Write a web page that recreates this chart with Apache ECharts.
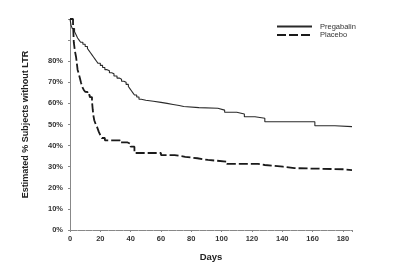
<!DOCTYPE html>
<html lang="en">
<head>
    <meta charset="UTF-8">
    <title>LTR</title>
    <script src="https://cdn.jsdelivr.net/npm/echarts@6/dist/echarts.min.js"></script>
    <style>
        html, body { margin: 0; padding: 0; background: #fff; }
        #chart { width: 400px; height: 273px; }
    </style>
</head>
<body>
<div id="chart"></div>
<script>
    // days / estimated % without LTR
    var pregabalinDays = [0, 0.7, 1.5, 3, 4, 5, 6, 7, 8.5, 10, 11.5, 12.5, 13.5, 14.5, 15.5, 16.5, 17.5, 18.5, 20, 21.5, 23, 24.5, 26, 27.5, 29, 31, 32.5, 34, 35.5, 37, 38.5, 39.5, 40.5, 41.5, 42.5, 44, 45.5, 47, 50, 55, 60, 64, 68, 72, 75, 85, 97.5, 102, 110, 115, 122, 128.5, 161.5, 174.7, 186];
    var pregabalinPct  = [100, 97, 95.5, 94, 92.5, 91, 90, 89, 88, 87, 86, 85, 84, 83, 82, 81, 80, 79, 78, 77, 76, 75.5, 74.5, 74, 73, 72, 71.5, 70.5, 70, 69, 68, 67, 66, 65, 64, 63, 62, 61.5, 61, 60.5, 60, 59.5, 59, 58.5, 58, 57.7, 56.8, 55.8, 55, 53.7, 53, 51.3, 49.4, 49, 49];

    var placeboDays = [0, 2, 2.5, 3.2, 4, 4.5, 5, 5.8, 6.5, 7.2, 8, 9, 10, 11.5, 13, 14.5, 15, 15.5, 16, 17, 18, 19, 20, 21, 23, 33, 38, 40, 42.5, 60, 69, 76, 84, 91, 103.5, 124, 128.5, 140.5, 148, 180, 186];
    var placeboPct  = [100, 98, 89, 85, 82, 79, 76, 74, 72, 70, 68, 66.5, 65.5, 64, 63, 61, 57, 54, 52, 50, 48.5, 46.5, 45, 43.6, 42.5, 41.5, 40.8, 39.5, 36.5, 35.5, 34.7, 34, 33.2, 32.4, 31.3, 30.8, 30, 29.3, 28.8, 28.4, 28.1];

    var xTicks = [0, 20, 40, 60, 80, 100, 120, 140, 160, 180];
    var yTickLabels = ['0%', '10%', '20%', '30%', '40%', '50%', '60%', '70%', '80%'];

    function pairs(xs, ys) {
        var out = [];
        for (var i = 0; i < xs.length; i++) {
            out.push([xs[i], ys[i]]);
        }
        return out;
    }

    var myChart = echarts.init(document.getElementById('chart'));
    myChart.setOption({
        animation: false,
        backgroundColor: '#fff',
        textStyle: { fontFamily: 'Liberation Sans, Arial, sans-serif' },
        grid: { left: 70, right: 48, top: 19, bottom: 43 },
        legend: {
            orient: 'vertical',
            left: 276,
            top: 22.5,
            padding: 0,
            itemWidth: 35,
            itemHeight: 8,
            itemGap: 0.5,
            itemStyle: { color: 'transparent', borderWidth: 0, opacity: 0 },
            textStyle: { fontSize: 7.5, color: '#333', padding: [0, 0, 0, 3] },
            data: ['Pregabalin', 'Placebo']
        },
        xAxis: {
            type: 'value',
            min: 0,
            max: 186,
            interval: 20,
            name: 'Days',
            nameLocation: 'middle',
            nameGap: 22,
            nameTextStyle: { fontSize: 9.5, fontWeight: 'bold', color: '#222' },
            axisLine: { lineStyle: { color: '#888', width: 1 } },
            axisTick: { show: true, length: 2, lineStyle: { color: '#888' } },
            minorTick: { show: true, splitNumber: 4, length: 1, lineStyle: { color: '#aaa' } },
            axisLabel: {
                fontSize: 7.5, fontWeight: 'bold', color: '#333', margin: 5,
                showMaxLabel: false,
                formatter: function (v) { return xTicks.indexOf(v) >= 0 ? String(v) : ''; }
            },
            splitLine: { show: false }
        },
        yAxis: {
            type: 'value',
            min: 0,
            max: 100,
            interval: 10,
            name: 'Estimated % Subjects without LTR',
            nameLocation: 'middle',
            nameGap: 40,
            nameTextStyle: { fontSize: 9, fontWeight: 'bold', color: '#222' },
            axisLine: { show: true, lineStyle: { color: '#888', width: 1 } },
            axisTick: { show: true, length: 2, lineStyle: { color: '#888' } },
            axisLabel: {
                fontSize: 7.5, fontWeight: 'bold', color: '#333', margin: 7,
                formatter: function (v) { return yTickLabels[Math.round(v / 10)] || ''; }
            },
            splitLine: { show: false }
        },
        series: [{
            name: 'Pregabalin',
            type: 'line',
            step: 'end',
            symbol: 'none',
            lineStyle: { color: '#2a2a2a', width: 1.1 },
            itemStyle: { color: '#2a2a2a' },
            data: pairs(pregabalinDays, pregabalinPct)
        }, {
            name: 'Placebo',
            type: 'line',
            step: 'end',
            symbol: 'none',
            lineStyle: { color: '#1a1a1a', width: 1.8, type: [9, 3] },
            itemStyle: { color: '#1a1a1a' },
            data: pairs(placeboDays, placeboPct)
        }]
    });
</script>
</body>
</html>
